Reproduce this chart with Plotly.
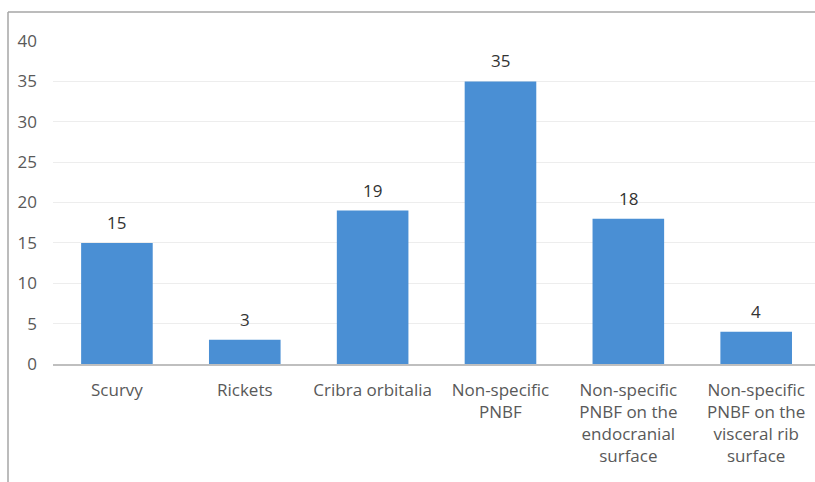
import plotly.graph_objects as go

categories = ["Scurvy", "Rickets", "Cribra orbitalia", "Non-specific<br>PNBF",
              "Non-specific<br>PNBF on the<br>endocranial<br>surface",
              "Non-specific<br>PNBF on the<br>visceral rib<br>surface"]
values = [15, 3, 19, 35, 18, 4]
y_ticks = [0, 5, 10, 15, 20, 25, 30, 35, 40]

W, H = 815, 482
ml, mr, mt, mb = 53, 0, 41, 118
pw, ph = W - ml - mr, H - mt - mb

fig = go.Figure()
fig.add_trace(go.Bar(x=categories, y=values, marker=dict(color="#4A8FD4", line=dict(width=0)),
                     hoverinfo="skip"))

for c, v in zip(categories, values):
    fig.add_annotation(x=c, y=v, text=str(v), showarrow=False, yanchor="bottom", yshift=7,
                       font=dict(family="Open Sans", size=17, color="#333333"))

def px_x(p):
    return (p - ml) / pw

def px_y(p):
    return (H - mb - p) / ph

line = dict(color="#A6A6A6", width=1.5)
fig.add_shape(type="line", xref="paper", yref="paper", x0=px_x(8), x1=px_x(8), y0=px_y(12), y1=px_y(H), line=line)
fig.add_shape(type="line", xref="paper", yref="paper", x0=px_x(8), x1=px_x(W), y0=px_y(12), y1=px_y(12), line=line)

fig.update_layout(
    width=W, height=H,
    margin=dict(l=ml, r=mr, t=mt, b=mb),
    paper_bgcolor="white", plot_bgcolor="white",
    bargap=0.44,
    showlegend=False,
    font=dict(family="Open Sans", size=17, color="#595959"),
    xaxis=dict(showgrid=False, showline=True, linecolor="#BFBFBF", linewidth=1.5,
               range=[-0.5, 5.46],
               ticks="", ticklabelstandoff=10, tickfont=dict(size=17, color="#595959")),
    yaxis=dict(range=[0, 40], tickvals=y_ticks, showgrid=True, gridcolor="#EDEDED", gridwidth=1,
               zeroline=False, showline=False, ticks="", ticklabelstandoff=15,
               tickfont=dict(size=17, color="#595959")),
)

fig.write_html("out.html", config=dict(displayModeBar=False),
               post_script="document.body.style.margin='0';document.body.style.overflow='hidden';")
